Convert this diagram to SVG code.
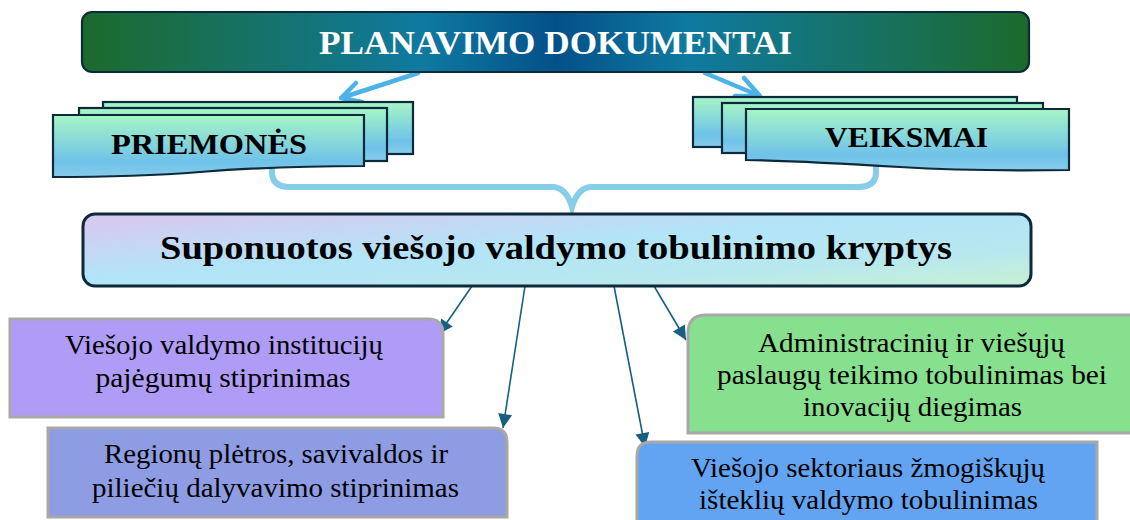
<svg xmlns="http://www.w3.org/2000/svg" width="1130" height="520" viewBox="0 0 1130 520">
<defs>
<linearGradient id="gTop" x1="0" y1="0" x2="1" y2="0">
<stop offset="0" stop-color="#1c6a2c"/>
<stop offset="0.36" stop-color="#0f7aa0"/>
<stop offset="0.5" stop-color="#04508a"/>
<stop offset="0.64" stop-color="#0f7aa0"/>
<stop offset="1" stop-color="#1c6a2c"/>
</linearGradient>
<linearGradient id="gDoc" x1="0" y1="0" x2="0" y2="1">
<stop offset="0" stop-color="#a6f5c6"/>
<stop offset="0.75" stop-color="#6fc2e8"/>
<stop offset="1" stop-color="#86cbeb"/>
</linearGradient>
<linearGradient id="gMid" x1="0" y1="0" x2="1" y2="1">
<stop offset="0" stop-color="#dcc6ee"/>
<stop offset="0.45" stop-color="#b2e4f8"/>
<stop offset="0.75" stop-color="#b8e8ee"/>
<stop offset="1" stop-color="#c8f0d2"/>
</linearGradient>
<marker id="ah" viewBox="0 0 10 10" refX="10" refY="5" markerWidth="17" markerHeight="14" markerUnits="userSpaceOnUse" orient="auto">
<path d="M0,0 L10,5 L0,10 Z" fill="#176083"/>
</marker>
<style>
.doc{fill:url(#gDoc);stroke:#0d2a3a;stroke-width:2.2}
.dt{font-family:"Liberation Serif",serif;font-weight:bold;fill:#000}
.bt{font-family:"Liberation Serif",serif;font-size:27px;fill:#000;text-anchor:middle}
.box{stroke:#a8a8a8;stroke-width:3}
.thin{stroke:#176083;stroke-width:1.6;fill:none}
.fat{stroke:#4db3e6;stroke-width:4.5;fill:none;stroke-linecap:round;stroke-linejoin:round}
</style>
</defs>
<rect width="1130" height="520" fill="#ffffff"/>

<g id="connectors">
<path d="M272,164 V172 Q272,187 290,187 H552 Q566,187 572,207 Q578,187 592,187 H858 Q876,187 876,172 V164" fill="none" stroke="#86cdea" stroke-width="6"/>
<path class="fat" d="M418,73 L341,98 M356,83 L341,98 L362,102"/>
<path class="fat" d="M705,73 L760,96 M744,78 L760,96 L735,96"/>
<line class="thin" x1="472" y1="286" x2="439" y2="334" marker-end="url(#ah)"/>
<line class="thin" x1="525" y1="286" x2="503" y2="428" marker-end="url(#ah)"/>
<line class="thin" x1="614" y1="286" x2="645" y2="447" marker-end="url(#ah)"/>
<line class="thin" x1="654" y1="286" x2="686" y2="340" marker-end="url(#ah)"/>
</g>

<g id="planavimo">
<rect x="82" y="12" width="947" height="60" rx="10" fill="url(#gTop)" stroke="#0d2a3a" stroke-width="2.2"/>
<text x="555.5" y="54" text-anchor="middle" font-family="Liberation Serif, serif" font-weight="bold" font-size="34" fill="#ffffff" textLength="473" lengthAdjust="spacingAndGlyphs">PLANAVIMO DOKUMENTAI</text>
</g>

<g id="priemones">
<rect class="doc" x="103" y="102" width="310" height="52"/>
<rect class="doc" x="79" y="108" width="308" height="53"/>
<path class="doc" d="M53,115 H364 V166 C300,166 250,168 200,172 C150,176 100,177 53,177 Z"/>
<text class="dt" x="111" y="154" font-size="30" textLength="196" lengthAdjust="spacingAndGlyphs">PRIEMONĖS</text>
</g>

<g id="veiksmai">
<rect class="doc" x="693" y="97" width="324" height="50"/>
<rect class="doc" x="722" y="103" width="321" height="50"/>
<path class="doc" d="M746,109 H1069 V170 C1000,171 950,170 900,167 C850,164 800,161 746,160 Z"/>
<text class="dt" x="825" y="147" font-size="29" textLength="163" lengthAdjust="spacingAndGlyphs">VEIKSMAI</text>
</g>

<g id="kryptys">
<rect x="83" y="214" width="948" height="72" rx="12" fill="url(#gMid)" stroke="#0d2a3a" stroke-width="3"/>
<text class="dt" x="160" y="259" font-size="33" textLength="792" lengthAdjust="spacingAndGlyphs">Suponuotos viešojo valdymo tobulinimo kryptys</text>
</g>

<g id="institucijos">
<path class="box" d="M10,319 H428 Q443,319 443,334 V417 H10 Z" fill="#af9cf6"/>
<text class="bt" x="224" y="354" textLength="318" lengthAdjust="spacingAndGlyphs">Viešojo valdymo institucijų</text>
<text class="bt" x="223" y="387" textLength="255" lengthAdjust="spacingAndGlyphs">pajėgumų stiprinimas</text>
</g>

<g id="regionai">
<path class="box" d="M48,428 H493 Q507,428 507,442 V517 H48 Z" fill="#8e9de3"/>
<text class="bt" x="276" y="463" textLength="344" lengthAdjust="spacingAndGlyphs">Regionų plėtros, savivaldos ir</text>
<text class="bt" x="275.5" y="497" textLength="367" lengthAdjust="spacingAndGlyphs">piliečių dalyvavimo stiprinimas</text>
</g>

<g id="paslaugos">
<path class="box" d="M706,315 H1133 V433 H688 V333 Q688,315 706,315 Z" fill="#86e08e"/>
<text class="bt" x="911.5" y="352" textLength="307" lengthAdjust="spacingAndGlyphs">Administracinių ir viešųjų</text>
<text class="bt" x="912" y="384" textLength="390" lengthAdjust="spacingAndGlyphs">paslaugų teikimo tobulinimas bei</text>
<text class="bt" x="912.5" y="416" textLength="219" lengthAdjust="spacingAndGlyphs">inovacijų diegimas</text>
</g>

<g id="istekliai">
<path class="box" d="M651,442 H1097 V525 H637 V456 Q637,442 651,442 Z" fill="#63a4f2"/>
<text class="bt" x="868" y="477" textLength="354" lengthAdjust="spacingAndGlyphs">Viešojo sektoriaus žmogiškųjų</text>
<text class="bt" x="868.5" y="509" textLength="339" lengthAdjust="spacingAndGlyphs">išteklių valdymo tobulinimas</text>
</g>
</svg>
